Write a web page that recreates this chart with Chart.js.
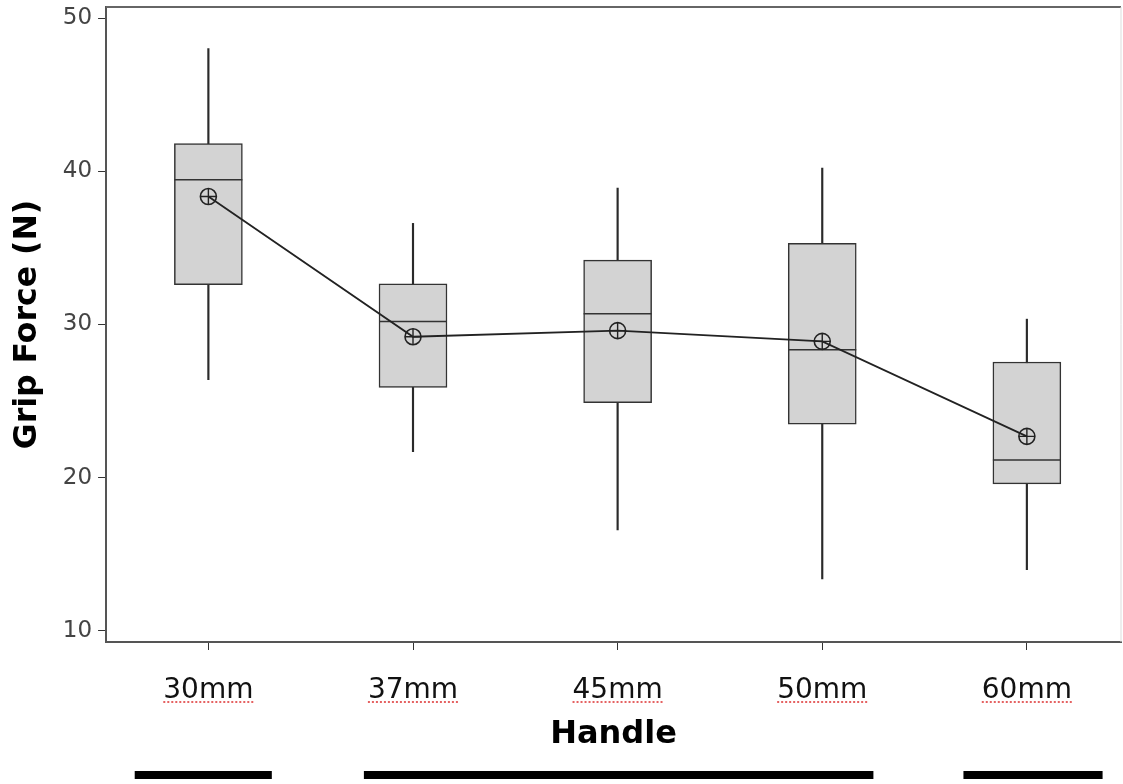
<!DOCTYPE html>
<html>
<head>
<meta charset="utf-8">
<script src="https://cdn.jsdelivr.net/npm/chart.js@4.4.1/dist/chart.umd.min.js"></script>
<style>
  html, body { margin: 0; padding: 0; background: #fff; }
</style>
</head>
<body>
<canvas id="grip_plot" width="1123" height="784"></canvas>
<script>
// handle sizes and box plot statistics (N)
const handles = ['30mm', '37mm', '45mm', '50mm', '60mm'];
const whiskerLow = [26.4, 21.7, 16.6, 13.4, 14.0];
const q1 = [32.6, 25.9, 24.9, 23.5, 19.6];
const median = [39.45, 30.2, 30.7, 28.35, 21.15];
const q3 = [41.8, 32.65, 34.2, 35.3, 27.55];
const whiskerHigh = [48.0, 36.6, 38.9, 40.2, 30.35];
const mean = [38.35, 29.2, 29.6, 28.9, 22.7];

// grouping bars under the axis (in handle units)
const groupStart = [0.64, 1.76, 4.69];
const groupEnd = [1.31, 4.25, 5.37];

const pos = handles.map((h, i) => i + 1);

// frame (top + right edge) and spell-check style underline + group bars
const extras = {
    id: 'extras',
    afterDraw(chart) {
        const ctx = chart.ctx;
        const a = chart.chartArea;
        const xs = chart.scales.x;
        ctx.save();
        ctx.strokeStyle = '#666';
        ctx.lineWidth = 2;
        ctx.beginPath();
        ctx.moveTo(a.left, a.top);
        ctx.lineTo(a.right, a.top);
        ctx.stroke();
        ctx.strokeStyle = '#ddd';
        ctx.lineWidth = 1;
        ctx.beginPath();
        ctx.moveTo(a.right, a.top);
        ctx.lineTo(a.right, a.bottom);
        ctx.stroke();

        // red dotted underline under each handle label
        ctx.font = '28px "DejaVu Sans"';
        ctx.strokeStyle = 'rgba(225, 70, 70, 0.85)';
        ctx.lineWidth = 2;
        ctx.setLineDash([2, 2]);
        pos.forEach((p, i) => {
            const cx = xs.getPixelForValue(p);
            const w = ctx.measureText(handles[i]).width;
            ctx.beginPath();
            ctx.moveTo(cx - w / 2, a.bottom + 60);
            ctx.lineTo(cx + w / 2, a.bottom + 60);
            ctx.stroke();
        });
        ctx.setLineDash([]);

        // black grouping bars
        ctx.fillStyle = '#000';
        groupStart.forEach((s, i) => {
            const x0 = xs.getPixelForValue(s);
            const x1 = xs.getPixelForValue(groupEnd[i]);
            ctx.fillRect(x0, chart.height - 13, x1 - x0, 8);
        });
        ctx.restore();
    }
};

new Chart(document.getElementById('grip_plot').getContext('2d'), {
    type: 'bar',
    data: {
        datasets: [{
            label: 'whisker',
            data: pos.map((p, i) => ({x: p, y: [whiskerLow[i], whiskerHigh[i]]})),
            backgroundColor: '#2a2a2a',
            borderWidth: 0,
            barThickness: 1.5,
            grouped: false,
            order: 5
        }, {
            label: 'box',
            data: pos.map((p, i) => ({x: p, y: [q1[i], q3[i]]})),
            backgroundColor: '#d3d3d3',
            borderColor: '#333',
            borderWidth: 1.5,
            borderSkipped: false,
            barThickness: 68,
            grouped: false,
            order: 4
        }, {
            label: 'median',
            type: 'scatter',
            data: pos.map((p, i) => ({x: p, y: median[i]})),
            pointStyle: 'line',
            pointRadius: 34,
            pointBorderWidth: 1.5,
            borderColor: '#333',
            order: 3
        }, {
            label: 'mean',
            type: 'line',
            data: pos.map((p, i) => ({x: p, y: mean[i]})),
            borderColor: '#222',
            borderWidth: 1.8,
            pointStyle: 'circle',
            pointRadius: 8,
            pointBorderWidth: 1.6,
            pointBackgroundColor: 'rgba(0,0,0,0)',
            pointBorderColor: '#222',
            fill: false,
            order: 2
        }, {
            label: 'mean cross',
            type: 'scatter',
            data: pos.map((p, i) => ({x: p, y: mean[i]})),
            pointStyle: 'cross',
            pointRadius: 8,
            pointBorderWidth: 1.4,
            borderColor: '#222',
            order: 1
        }]
    },
    options: {
        responsive: false,
        animation: false,
        maintainAspectRatio: false,
        layout: {
            autoPadding: false,
            padding: {left: 2, right: 2, top: 7, bottom: 41}
        },
        plugins: {
            legend: {display: false},
            tooltip: {enabled: false}
        },
        scales: {
            x: {
                type: 'linear',
                min: 0.5,
                max: 5.46,
                offset: false,
                grid: {
                    offset: false,
                    drawOnChartArea: false,
                    drawTicks: true,
                    tickLength: 8,
                    color: '#333'
                },
                border: {display: true, color: '#555', width: 2},
                ticks: {
                    stepSize: 1,
                    includeBounds: false,
                    autoSkip: false,
                    maxRotation: 0,
                    padding: 37,
                    color: '#111',
                    font: {family: 'DejaVu Sans', size: 28, lineHeight: 0.25},
                    callback: v => handles[v - 1] || ''
                },
                title: {
                    display: true,
                    text: 'Handle',
                    color: '#000',
                    font: {family: 'DejaVu Sans', size: 32, weight: 'bold', lineHeight: 0.5},
                    padding: {top: -4, bottom: 0}
                }
            },
            y: {
                min: 9.28,
                max: 50.72,
                afterFit: s => { s.paddingTop = 0; s.paddingBottom = 0; },
                grid: {
                    drawOnChartArea: false,
                    drawTicks: true,
                    tickLength: 8,
                    color: '#333'
                },
                border: {display: true, color: '#555', width: 2},
                ticks: {
                    stepSize: 10,
                    includeBounds: false,
                    padding: 6,
                    color: '#444',
                    font: {family: 'DejaVu Sans', size: 23, lineHeight: 0.5}
                },
                title: {
                    display: true,
                    text: 'Grip Force (N)',
                    color: '#000',
                    font: {family: 'DejaVu Sans', size: 31.5, weight: 'bold'},
                    padding: {top: 7, bottom: 10}
                }
            }
        }
    },
    plugins: [extras]
});
</script>
</body>
</html>
